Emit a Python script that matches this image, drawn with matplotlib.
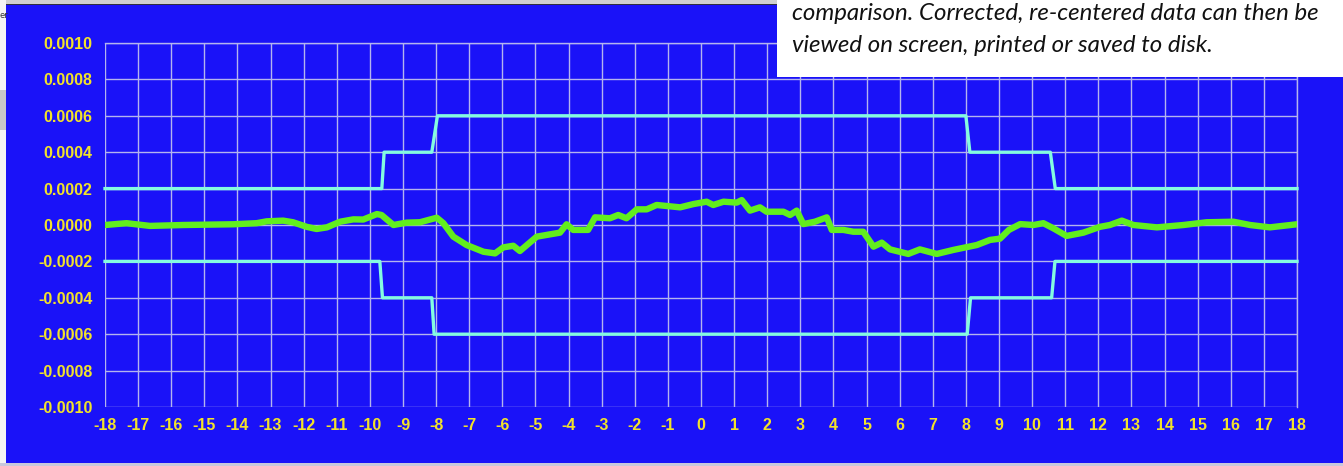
import matplotlib.pyplot as plt
from matplotlib.patches import Rectangle
import numpy as np

# ---- data ----
# measured deviation (green trace)
trace_x = [-18.0, -17.35, -16.64, -15.64, -14.13, -13.42, -13.12, -12.62, -12.32,
           -11.91, -11.61, -11.30, -10.90, -10.50, -10.20, -9.79, -9.65, -9.29,
           -8.89, -8.49, -7.98, -7.78, -7.48, -7.08, -6.57, -6.22, -5.97, -5.67,
           -5.47, -4.96, -4.26, -4.06, -3.86, -3.41, -3.20, -2.75, -2.50, -2.25,
           -1.94, -1.64, -1.34, -0.63, -0.23, 0.17, 0.37, 0.68, 1.08, 1.23, 1.48,
           1.78, 1.98, 2.49, 2.69, 2.89, 3.09, 3.44, 3.80, 3.95, 4.30, 4.60, 4.90,
           5.21, 5.46, 5.71, 6.26, 6.61, 7.12, 7.62, 8.33, 8.73, 9.03, 9.30, 9.64,
           10.04, 10.34, 10.64, 11.04, 11.55, 12.05, 12.35, 12.71, 13.06, 13.77,
           14.57, 15.27, 16.08, 16.58, 17.18, 18.0]
trace_y = [0.0, 0.10, -0.05, 0.0, 0.04, 0.10, 0.20, 0.24, 0.15,
           -0.10, -0.22, -0.13, 0.18, 0.31, 0.30, 0.60, 0.55, 0.0,
           0.13, 0.15, 0.40, 0.10, -0.64, -1.10, -1.47, -1.56, -1.23, -1.14,
           -1.43, -0.64, -0.42, 0.04, -0.27, -0.27, 0.42, 0.37, 0.55, 0.37,
           0.86, 0.86, 1.10, 0.97, 1.15, 1.28, 1.10, 1.28, 1.23, 1.37, 0.79,
           0.97, 0.73, 0.73, 0.55, 0.79, 0.05, 0.18, 0.42, -0.27, -0.27, -0.37, -0.37,
           -1.19, -0.97, -1.34, -1.59, -1.34, -1.59, -1.37, -1.10, -0.82, -0.75, -0.27, 0.05,
           0.0, 0.10, -0.18, -0.60, -0.42, -0.10, 0.0, 0.24, 0.0, -0.13,
           0.0, 0.15, 0.18, 0.0, -0.13, 0.04]
trace_y = [v * 1e-4 for v in trace_y]

# tolerance band (cyan)
upper_x = [-18.0, -9.64, -9.57, -8.13, -7.96, 8.0, 8.12, 10.55, 10.70, 18.0]
upper_y = [0.0002, 0.0002, 0.0004, 0.0004, 0.0006, 0.0006, 0.0004, 0.0004, 0.0002, 0.0002]
lower_x = [-18.0, -9.70, -9.62, -8.13, -8.06, 8.04, 8.14, 10.59, 10.69, 18.0]
lower_y = [-0.0002, -0.0002, -0.0004, -0.0004, -0.0006, -0.0006, -0.0004, -0.0004, -0.0002, -0.0002]

x_ticks = list(range(-18, 19))
y_ticks = [-0.0010, -0.0008, -0.0006, -0.0004, -0.0002, 0.0, 0.0002, 0.0004, 0.0006, 0.0008, 0.0010]

note_lines = ["comparison. Corrected, re-centered data can then be",
              "viewed on screen, printed or saved to disk."]

# ---- styling ----
BG = "#1a12f8"
GRID = "#b4b4ee"
TOL = "#84fbe0"
TRACE = "#62ee1e"
LABEL = "#f2e22a"

W, H = 1343, 466
fig = plt.figure(figsize=(W / 100, H / 100), dpi=100, facecolor=BG)
ax = fig.add_axes([105 / W, 1 - 407 / H, (1297 - 105) / W, (407 - 43) / H])
ax.set_facecolor(BG)

ax.set_xlim(-18, 18)
ax.set_ylim(-0.0010, 0.0010)
ax.set_xticks(x_ticks)
ax.set_yticks(y_ticks)
ax.set_xticklabels([str(t) for t in x_ticks])
ax.set_yticklabels([f"{t:.4f}" for t in y_ticks])
ax.tick_params(axis="y", length=0, colors=LABEL, pad=9)
ax.tick_params(axis="x", length=0, colors=LABEL, pad=8)
for lab in ax.get_xticklabels() + ax.get_yticklabels():
    lab.set_family(["Liberation Sans", "DejaVu Sans"])
    lab.set_fontweight("bold")
    lab.set_fontsize(11.5)
    lab.set_color(LABEL)
ax.grid(True, color=GRID, linewidth=1.0)
ax.set_axisbelow(True)
for s in ax.spines.values():
    s.set_visible(False)
# right / top edge lines like the grid
ax.axvline(18, color=GRID, linewidth=1.0, clip_on=False, zorder=0.5)
ax.axhline(0.0010, color=GRID, linewidth=1.0, clip_on=False, zorder=0.5)

ax.plot(upper_x, upper_y, color=TOL, linewidth=2.4, clip_on=False, zorder=3)
ax.plot(lower_x, lower_y, color=TOL, linewidth=2.4, clip_on=False, zorder=3)
ax.plot(trace_x, trace_y, color=TRACE, linewidth=4.6, solid_joinstyle="round",
        solid_capstyle="round", zorder=4)

# screenshot edges
fig.add_artist(Rectangle((0, 1 - 4 / H), 1, 4 / H, transform=fig.transFigure,
                         facecolor="#d0d0d0", edgecolor="none", zorder=9))
fig.add_artist(Rectangle((0, 1 - 5 / H), 1, 1.2 / H, transform=fig.transFigure,
                         facecolor="#303040", edgecolor="none", zorder=9))
fig.add_artist(Rectangle((0, 0), 6 / W, 1, transform=fig.transFigure,
                         facecolor="#f4f4f4", edgecolor="none", zorder=9))
fig.add_artist(Rectangle((0, 1 - 130 / H), 6 / W, 40 / H, transform=fig.transFigure,
                         facecolor="#c8c8c8", edgecolor="none", zorder=9))
fig.add_artist(Rectangle((0, 0), 1, 3 / H, transform=fig.transFigure,
                         facecolor="#c8c8dc", edgecolor="none", zorder=9))
fig.text(0, 1 - 15 / H, "er", fontsize=6, color="#333333", va="center", zorder=10)

# white note box, top right
fig.add_artist(Rectangle((777 / W, 1 - 77 / H), (W - 777) / W, 77 / H,
                         transform=fig.transFigure, facecolor="white",
                         edgecolor="none", zorder=10))
for i, line in enumerate(note_lines):
    fig.text(792 / W, 1 - (14 + 31 * i) / H, line, fontsize=17.3, style="italic",
             family=["Lato", "DejaVu Sans"], color="#111111", va="center", zorder=11)

fig.savefig("out.png", dpi=100, facecolor=BG)
